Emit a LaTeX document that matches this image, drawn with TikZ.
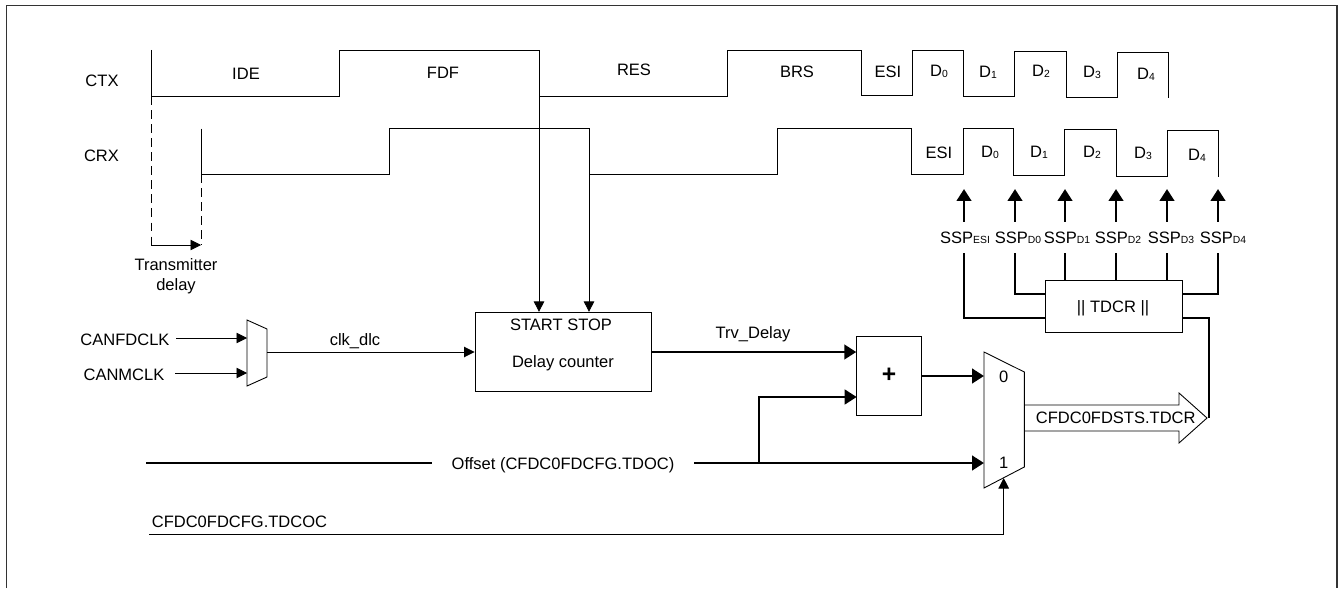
\documentclass[tikz,border=0pt]{standalone}
\usepackage{fontspec}
\setmainfont{Liberation Sans}
\usetikzlibrary{arrows.meta,calc}
\newcommand{\subs}[1]{\raisebox{-0.4pt}{\fontsize{5.9}{6}\selectfont #1}}

\begin{document}
\begin{tikzpicture}[
    x=0.02cm, y=-0.02cm,
    wire/.style={line width=0.5pt, black},
    arr/.style={wire, -{Triangle[length=2.1mm, width=2.1mm]}},
    bus/.style={line width=1.6pt, black},
    busarr/.style={bus, -{Triangle[length=2.4mm, width=2.9mm]}},
    box/.style={rectangle, draw=black, line width=0.5pt, inner sep=0pt},
    lbl/.style={inner sep=0pt, font=\fontsize{9.4}{11.4}\selectfont, text height=2.4mm, text depth=0pt}
]
    \useasboundingbox (0,0) rectangle (1341,588);
    \draw[line width=0.9pt, black!80] (6.7,588) -- (6.7,5.3) -- (1337,5.3) -- (1337,588);

    % Signal names
    \node[lbl] (ctxname) at (102,81) {CTX};
    \node[lbl] (crxname) at (101.5,156) {CRX};

    % CTX waveform
    \coordinate (ctxstart) at (151,96);
    \coordinate (ctxfdf) at (539,96);
    \draw[wire] (151,50) -- (ctxstart) -- (339,96) -- (339,50) -- (539,50) -- (ctxfdf)
        -- (727,96) -- (727,50) -- (861.5,50) -- (861.5,95.5) -- (912,95.5) -- (912,50.5)
        -- (963,50.5) -- (963,96.5) -- (1014.5,96.5) -- (1014.5,51) -- (1066,51) -- (1066,97)
        -- (1117,97) -- (1117,52) -- (1168,52) -- (1168,98);
    \foreach \x/\y/\t in {246/74/IDE, 443/73/FDF, 634/70/RES, 797/72/BRS, 888/72/ESI,
        939/71/D\subs{0}, 988/72/D\subs{1}, 1041/71/D\subs{2},
        1092/72/D\subs{3}, 1146/74/D\subs{4}} {
        \node[lbl] at (\x,\y) {\t};
    }

    % CRX waveform
    \coordinate (crxstart) at (201,174);
    \coordinate (crxfall) at (589,174);
    \draw[wire] (201,128.5) -- (crxstart) -- (389,174) -- (389,128) -- (589,128) -- (crxfall)
        -- (777,174) -- (777,128) -- (911.5,128) -- (911.5,174) -- (963,174) -- (963,128.5)
        -- (1013,128.5) -- (1013,175) -- (1064.5,175) -- (1064.5,129) -- (1116,129) -- (1116,176)
        -- (1167,176) -- (1167,130) -- (1218,130) -- (1218,177);
    \foreach \x/\y/\t in {939/153/ESI, 990/152/D\subs{0}, 1039/152/D\subs{1},
        1092/152/D\subs{2}, 1143/153/D\subs{3}, 1197/155/D\subs{4}} {
        \node[lbl] at (\x,\y) {\t};
    }

    % Transmitter delay
    \coordinate (txdl) at (151,245);
    \coordinate (txdr) at (201,245);
    \draw[wire, dash pattern=on 5pt off 3pt] (ctxstart) -- (txdl);
    \draw[wire, dash pattern=on 5pt off 3pt] (crxstart) -- (txdr);
    \draw[arr] (txdl) -- (txdr);
    \node[inner sep=0pt, align=center, font=\fontsize{9.4}{11.4}\selectfont] (txdelay) at (176,276) {Transmitter\\delay};

    % Clock mux
    \draw[wire] (247,320) -- (267,329) -- (267,377) -- (247,386) -- cycle;
    \coordinate (clkmuxa) at (247,338);
    \coordinate (clkmuxb) at (247,373);
    \coordinate (clkmuxout) at (267,352);
    \node[lbl] (canfdclk) at (125,339) {CANFDCLK};
    \node[lbl] (canmclk) at (124,374) {CANMCLK};
    \draw[arr] (176,338) -- (clkmuxa);
    \draw[arr] (175,373) -- (clkmuxb);

    % Delay counter
    \node[box, minimum width=3.534cm, minimum height=1.588cm] (counter) at (563.3,352) {};
    \node[lbl] (startstop) at (561,324) {START STOP};
    \node[lbl] (delaylbl) at (563,361) {Delay counter};
    \draw[arr] (clkmuxout) -- (counter.west);
    \node[lbl] (clkdlc) at (355,339) {clk\_dlc};
    \draw[arr] (ctxfdf) -- (ctxfdf |- counter.north);
    \draw[arr] (crxfall) -- (crxfall |- counter.north);

    % Adder
    \node[box, minimum width=1.3cm, minimum height=1.58cm] (adder) at (889.2,375.5) {};
    \node[lbl, font=\bfseries\fontsize{14}{16}\selectfont, text height=3mm] (plus) at (889,375) {+};
    \coordinate (adderb) at (856.7,397);
    \draw[busarr] (counter.east) -- (counter.east -| adder.west);
    \node[lbl] (trvdelay) at (753,332.5) {Trv\_Delay};

    % Output mux
    \draw[wire] (984,352) -- (1024.3,372) -- (1024.3,467) -- (984,488) -- cycle;
    \coordinate (muxa) at (984,376);
    \coordinate (muxb) at (984,463);
    \coordinate (muxsel) at (1003.7,478);
    \node[lbl] (muxzero) at (1003.7,376) {0};
    \node[lbl] (muxone) at (1003.7,462) {1};
    \draw[busarr] (adder.east |- muxa) -- (muxa);

    % Offset
    \node[lbl] (offset) at (563,463) {Offset (CFDC0FDCFG.TDOC)};
    \coordinate (offsetbr) at (759,463);
    \draw[bus] (146,463) -- (432,463);
    \draw[busarr] (694,463) -- (muxb);
    \draw[busarr] (offsetbr) |- (adderb);

    % TDCOC select
    \node[lbl] (tdcoc) at (239.5,521) {CFDC0FDCFG.TDCOC};
    \draw[arr] (149,534.7) -| (muxsel);

    % Result arrow
    \draw[wire] (1024.3,405) -- (1179,405) -- (1179,393) -- (1207,418) -- (1179,443) -- (1179,431) -- (1024.3,431);
    \node[lbl] (tdcrsts) at (1115.7,417) {CFDC0FDSTS.TDCR};

    % TDCR register
    \node[box, minimum width=2.732cm, minimum height=1.026cm] (tdcr) at (1113.8,306.4) {};
    \node[lbl] (tdcrlbl) at (1113,306) {|| TDCR ||};
    \coordinate (tdcrout) at (1209,318);
    \draw[bus] (tdcr.east |- tdcrout) -- (tdcrout) -- (1209,418);

    % SSP labels and arrows
    \foreach \n/\x/\lx/\t in {ESI/964/965/ESI, Da/1015/1018/D0, Db/1065/1067/D1,
        Dc/1116/1118/D2, Dd/1167/1171/D3, De/1218/1223/D4} {
        \node[lbl] (ssp\n) at (\lx,237) {SSP\subs{\t}};
        \coordinate (ssptop\n) at (\x,221.5);
        \coordinate (sspbot\n) at (\x,253);
        \draw[busarr] (ssptop\n) -- (\x,189);
    }
    \draw[bus] (sspbotESI) |- (tdcr.west |- 0,318);
    \draw[bus] (sspbotDa) |- (tdcr.west |- 0,294);
    \draw[bus] (sspbotDe) |- (tdcr.east |- 0,294);
    \foreach \n in {Db,Dc,Dd} {
        \draw[bus] (sspbot\n) -- (sspbot\n |- tdcr.north);
    }
\end{tikzpicture}
\end{document}
